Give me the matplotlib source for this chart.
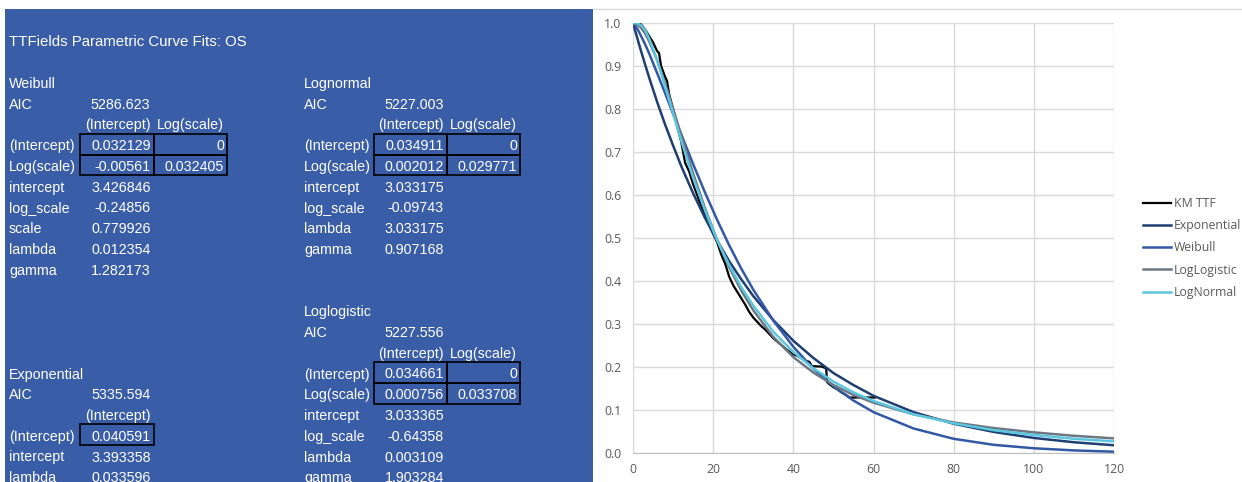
"""TTFields parametric curve fits (OS): sheet panel + survival curve chart."""

import matplotlib
matplotlib.use("Agg")
import matplotlib.pyplot as plt
import matplotlib.ticker as ticker
from matplotlib.lines import Line2D
from matplotlib.patches import Rectangle

# ── Sheet content ─────────────────────────────────────────────────────
TITLE = "TTFields Parametric Curve Fits: OS"

weibull_labels = ["AIC", "", "(Intercept)", "Log(scale)", "intercept", "log_scale",
                  "scale", "lambda", "gamma"]
weibull_col1 = ["5286.623", "(Intercept)", "0.032129", "-0.00561", "3.426846", "-0.24856",
                "0.779926", "0.012354", "1.282173"]
weibull_col2 = ["", "Log(scale)", "0", "0.032405", "", "", "", "", ""]

lognormal_labels = ["AIC", "", "(Intercept)", "Log(scale)", "intercept", "log_scale",
                    "lambda", "gamma"]
lognormal_col1 = ["5227.003", "(Intercept)", "0.034911", "0.002012", "3.033175", "-0.09743",
                  "3.033175", "0.907168"]
lognormal_col2 = ["", "Log(scale)", "0", "0.029771", "", "", "", ""]

loglogistic_labels = ["AIC", "", "(Intercept)", "Log(scale)", "intercept", "log_scale",
                      "lambda", "gamma"]
loglogistic_col1 = ["5227.556", "(Intercept)", "0.034661", "0.000756", "3.033365", "-0.64358",
                    "0.003109", "1.903284"]
loglogistic_col2 = ["", "Log(scale)", "0", "0.033708", "", "", "", ""]

exponential_labels = ["AIC", "", "(Intercept)", "intercept", "lambda"]
exponential_col1 = ["5335.594", "(Intercept)", "0.040591", "3.393358", "0.033596"]
exponential_col2 = ["", "", "", "", ""]

# ── Chart data ────────────────────────────────────────────────────────
fit_t = [0, 1, 2, 3, 4, 6, 8, 10, 12, 15, 18, 21, 24, 27, 30, 35, 40, 45, 50, 55, 60,
         70, 80, 90, 100, 110, 120]
exponential_s = [1.000, 0.967, 0.935, 0.904, 0.874, 0.817, 0.764, 0.715, 0.668, 0.604,
                 0.546, 0.494, 0.446, 0.404, 0.365, 0.309, 0.261, 0.221, 0.186, 0.158,
                 0.133, 0.095, 0.068, 0.049, 0.035, 0.025, 0.018]
weibull_s = [1.000, 0.988, 0.970, 0.951, 0.930, 0.884, 0.837, 0.789, 0.742, 0.672,
             0.605, 0.542, 0.483, 0.429, 0.380, 0.308, 0.247, 0.196, 0.155, 0.122,
             0.095, 0.057, 0.033, 0.019, 0.011, 0.006, 0.003]
loglogistic_s = [1.000, 0.997, 0.989, 0.976, 0.958, 0.914, 0.860, 0.801, 0.740, 0.650,
                 0.568, 0.495, 0.432, 0.378, 0.332, 0.270, 0.223, 0.187, 0.158, 0.135,
                 0.117, 0.090, 0.071, 0.058, 0.048, 0.040, 0.034]
lognormal_s = [1.000, 1.000, 0.995, 0.984, 0.965, 0.914, 0.853, 0.790, 0.727, 0.640,
               0.563, 0.495, 0.437, 0.386, 0.343, 0.282, 0.235, 0.197, 0.166, 0.141,
               0.121, 0.090, 0.069, 0.053, 0.042, 0.033, 0.027]

km_t = [0, 2, 3, 4, 5, 6, 6.5, 7, 8, 8.5, 9, 10, 11, 12, 12.5, 13, 14, 15, 16, 17, 18,
        19, 20, 21, 22, 23, 24, 25, 26, 27, 28, 29, 30, 31, 32, 33, 34, 35, 36, 37, 38,
        39, 40, 41, 42, 43, 44, 44.6, 47, 48.2, 48.4, 49, 50, 51, 52, 53, 54, 56, 60.3]
km_s = [1.0, 0.997, 0.985, 0.97, 0.955, 0.935, 0.93, 0.90, 0.875, 0.865, 0.835, 0.80,
        0.76, 0.725, 0.70, 0.675, 0.655, 0.625, 0.60, 0.575, 0.555, 0.53, 0.51, 0.49,
        0.462, 0.44, 0.41, 0.39, 0.375, 0.36, 0.345, 0.328, 0.315, 0.305, 0.295, 0.287,
        0.277, 0.267, 0.259, 0.251, 0.243, 0.236, 0.229, 0.226, 0.221, 0.215, 0.212,
        0.202, 0.201, 0.197, 0.165, 0.160, 0.153, 0.148, 0.141, 0.136, 0.129, 0.129, 0.129]

series_names = ["KM TTF", "Exponential", "Weibull", "LogLogistic", "LogNormal"]

# ── Style ─────────────────────────────────────────────────────────────
W, H = 1242, 482
SHEET_BLUE = "#3A5DA8"
SHEET_FONT = ["Liberation Sans", "DejaVu Sans"]
CHART_FONT = ["Open Sans", "DejaVu Sans"]
TXT_GREY = "#595959"
GRID = "#D9D9D9"
_COL = {
    "KM TTF":      "#000000",
    "Exponential": "#1F3F73",
    "Weibull":     "#3258A6",
    "LogLogistic": "#6D7782",
    "LogNormal":   "#5BC6E0",
}

# column edges of the sheet (px)
COL_A, COL_B, COL_C, COL_D = 5, 80, 153.5, 227
COL_E, COL_F, COL_G, COL_H = 300, 374, 447, 520


def fx(px):
    return px / W


def fy(py):
    return 1 - py / H


def row_y(k):
    return 84 + 20.75 * k


def cell_text(fig, x, k, s, ha="left", size=10.3):
    if not s:
        return
    fig.text(fx(x), fy(row_y(k)), s, ha=ha, va="center", color="white",
             fontsize=size, family=SHEET_FONT)


def box(fig, x0, x1, k0, k1):
    y0 = row_y(k0) - 12.4
    y1 = row_y(k1) + 8.35
    fig.add_artist(Rectangle((fx(x0), fy(y1)), fx(x1) - fx(x0), fy(y0) - fy(y1),
                             transform=fig.transFigure, fill=False,
                             edgecolor="black", linewidth=1.2, zorder=3))


def draw_block(fig, k0, name, labels, col1, col2, xl, xb, xc, xd):
    cell_text(fig, xl + 4, k0, name)
    for i, (lab, v1, v2) in enumerate(zip(labels, col1, col2)):
        k = k0 + 1 + i
        cell_text(fig, xl + 4, k, lab)
        cell_text(fig, xc - 3, k, v1, ha="right")
        cell_text(fig, xd - 3, k, v2, ha="right")


fig = plt.figure(figsize=(W / 100, H / 100), dpi=100)
fig.patch.set_facecolor("white")

# ── Left: sheet ───────────────────────────────────────────────────────
fig.add_artist(Rectangle((fx(5), fy(482)), fx(593) - fx(5), fy(9) - fy(482),
                         transform=fig.transFigure, facecolor=SHEET_BLUE,
                         edgecolor="none", zorder=0))
fig.add_artist(Line2D([fx(594), 1], [fy(9), fy(9)], transform=fig.transFigure,
                      color=GRID, linewidth=1))

cell_text(fig, 9, -2, TITLE, size=10.8)
draw_block(fig, 0, "Weibull", weibull_labels, weibull_col1, weibull_col2,
           COL_A, COL_B, COL_C, COL_D)
draw_block(fig, 0, "Lognormal", lognormal_labels, lognormal_col1, lognormal_col2,
           COL_E, COL_F, COL_G, COL_H)
draw_block(fig, 11, "Loglogistic", loglogistic_labels, loglogistic_col1, loglogistic_col2,
           COL_E, COL_F, COL_G, COL_H)
draw_block(fig, 14, "Exponential", exponential_labels, exponential_col1, exponential_col2,
           COL_A, COL_B, COL_C, COL_D)

# boxed covariance cells
for x0, x1 in [(COL_B, COL_C), (COL_C, COL_D)]:
    box(fig, x0, x1, 3, 3)
    box(fig, x0, x1, 4, 4)
for x0, x1 in [(COL_F, COL_G), (COL_G, COL_H)]:
    box(fig, x0, x1, 3, 3)
    box(fig, x0, x1, 4, 4)
    box(fig, x0, x1, 14, 14)
    box(fig, x0, x1, 15, 15)
box(fig, COL_B, COL_C, 17, 17)

# ── Right: survival curves ────────────────────────────────────────────
ax = fig.add_axes([fx(633), fy(453), fx(1114) - fx(633), fy(23) - fy(453)])
ax.plot(km_t, km_s, color=_COL["KM TTF"], linewidth=1.6, label="KM TTF")
for name, s in zip(series_names[1:], [exponential_s, weibull_s, loglogistic_s, lognormal_s]):
    ax.plot(fit_t, s, color=_COL[name], linewidth=1.8, label=name)

ax.set_xlim(0, 120)
ax.set_ylim(0, 1.0)
ax.xaxis.set_major_locator(ticker.MultipleLocator(20))
ax.yaxis.set_major_locator(ticker.MultipleLocator(0.1))
ax.yaxis.set_major_formatter(ticker.FormatStrFormatter("%.1f"))
ax.grid(True, color=GRID, linewidth=1)
ax.set_axisbelow(True)
for side in ["top", "right", "left"]:
    ax.spines[side].set_visible(False)
ax.spines["bottom"].set_color("#BFBFBF")
ax.tick_params(length=0, labelsize=8.8, labelcolor=TXT_GREY)
ax.tick_params(axis="y", pad=8.5)
ax.tick_params(axis="x", pad=7)
for lab in ax.get_xticklabels() + ax.get_yticklabels():
    lab.set_family(CHART_FONT)

leg = ax.legend(loc="center left", bbox_to_anchor=(fx(1143), fy(248)),
                bbox_transform=fig.transFigure, frameon=False, borderaxespad=0,
                borderpad=0, handlelength=2.3, handletextpad=0.2, labelspacing=0.75,
                prop={"family": CHART_FONT, "size": 8.8})
for t in leg.get_texts():
    t.set_color(TXT_GREY)

fig.savefig("out.png", dpi=100)
plt.close(fig)
